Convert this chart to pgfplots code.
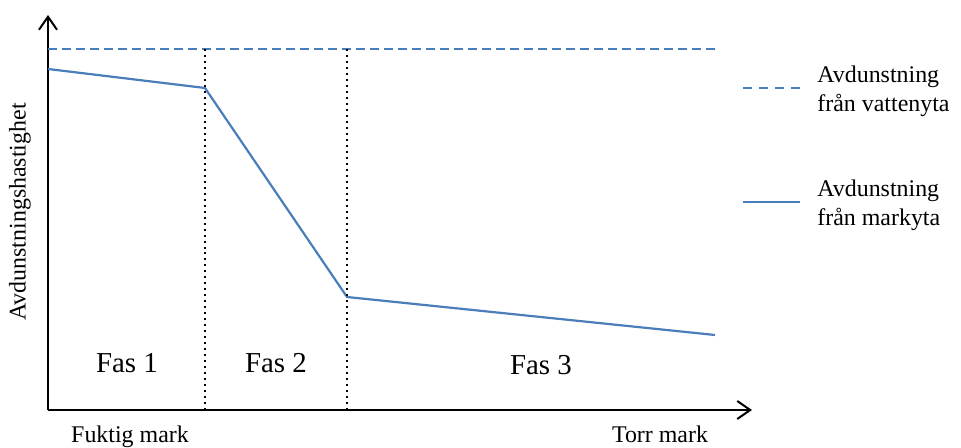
\documentclass[border=0pt]{standalone}
\usepackage{pgfplots}
\pgfplotsset{compat=1.18}
\usepackage{fontspec}
\setmainfont{Liberation Serif}
\usetikzlibrary{arrows.meta}
\definecolor{lblue}{HTML}{4A7EBB}
\begin{document}
\begin{tikzpicture}[x=0.5bp,y=0.5bp]
\begin{axis}[
  scale only axis,
  width=352bp, height=197.5bp,
  xmin=48, xmax=752, ymin=38, ymax=433,
  axis lines=left,
  axis line style={line width=1bp, -{Straight Barb[length=6.5bp,width=9bp,line width=1bp]}},
  xtick=\empty, ytick=\empty,
  clip=false,
]
\addplot[lblue, line width=1.1bp, dash pattern=on 4.5bp off 2.5bp] coordinates {(48,399) (715,399)};
\addplot[lblue, line width=1.1bp] coordinates {(48,379) (205,360) (347,151) (715,113)};
\addplot[black, line width=1bp, dotted] coordinates {(205,399) (205,38)};
\addplot[black, line width=1bp, dotted] coordinates {(347,399) (347,38)};
% legend lines
\addplot[lblue, line width=1.1bp, dash pattern=on 4.5bp off 3.5bp] coordinates {(743,360) (800,360)};
\addplot[lblue, line width=1.1bp] coordinates {(743,246) (800,246)};
\node[font=\fontsize{14.5}{17}\selectfont] at (axis cs:127,85) {Fas 1};
\node[font=\fontsize{14.5}{17}\selectfont] at (axis cs:276,85) {Fas 2};
\node[font=\fontsize{14.5}{17}\selectfont] at (axis cs:541,83) {Fas 3};
\node[font=\fontsize{12}{14}\selectfont, anchor=base, inner sep=0pt] at (axis cs:130,6) {Fuktig mark};
\node[font=\fontsize{12}{14}\selectfont, anchor=base, inner sep=0pt] at (axis cs:660,6) {Torr mark};
\node[font=\fontsize{12}{14}\selectfont, rotate=90] at (axis cs:20,236) {Avdunstningshastighet};
\node[font=\fontsize{12}{14.5}\selectfont, anchor=west, align=left, inner sep=0pt] at (axis cs:817,357) {Avdunstning\\från vattenyta};
\node[font=\fontsize{12}{14.5}\selectfont, anchor=west, align=left, inner sep=0pt] at (axis cs:817,243) {Avdunstning\\från markyta};
\coordinate (bl) at (axis cs:0,0);
\coordinate (tr) at (axis cs:961,448);
\end{axis}
\pgfresetboundingbox
\useasboundingbox (bl) rectangle (tr);
\end{tikzpicture}
\end{document}
